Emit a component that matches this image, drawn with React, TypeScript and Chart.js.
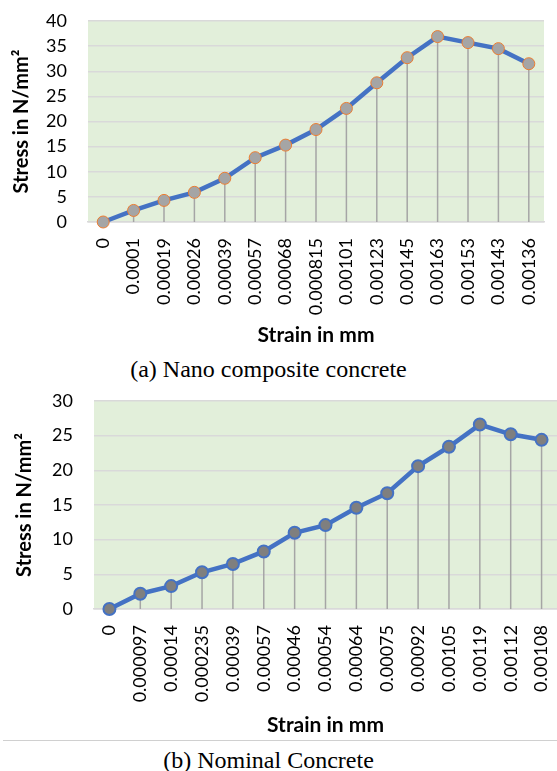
import React, { useEffect, useRef } from "react";
import { Chart, registerables } from "chart.js";

Chart.register(...registerables);

const strainA = ["0", "0.0001", "0.00019", "0.00026", "0.00039", "0.00057", "0.00068", "0.000815", "0.00101", "0.00123", "0.00145", "0.00163", "0.00153", "0.00143", "0.00136"];
const stressA = [0, 2.3, 4.3, 5.9, 8.7, 12.8, 15.3, 18.4, 22.6, 27.7, 32.7, 36.9, 35.7, 34.5, 31.5];

const strainB = ["0", "0.000097", "0.00014", "0.000235", "0.00039", "0.00057", "0.00046", "0.00054", "0.00064", "0.00075", "0.00092", "0.00105", "0.00119", "0.00112", "0.00108"];
const stressB = [0, 2.2, 3.3, 5.3, 6.5, 8.3, 11.0, 12.1, 14.6, 16.7, 20.6, 23.4, 26.6, 25.2, 24.4];

const yTitle = "Stress in N/mm\u00b2";
const xTitle = "Strain in mm";
const captionA = "(a) Nano composite concrete";
const captionB = "(b) Nominal Concrete";

const FONT = "Lato, 'Open Sans', sans-serif";

const bgPlugin = {
  id: "plotBg",
  beforeDraw(chart: any) {
    const { ctx, chartArea } = chart;
    ctx.save();
    ctx.fillStyle = "#e2efda";
    ctx.fillRect(chartArea.left, chartArea.top, chartArea.right - chartArea.left, chartArea.bottom - chartArea.top);
    ctx.restore();
  },
};

const dropPlugin = {
  id: "dropLines",
  beforeDatasetsDraw(chart: any) {
    const { ctx, chartArea } = chart;
    const meta = chart.getDatasetMeta(0);
    ctx.save();
    ctx.strokeStyle = "#a5a5a5";
    ctx.lineWidth = 1.5;
    meta.data.forEach((pt: any) => {
      ctx.beginPath();
      ctx.moveTo(pt.x, pt.y);
      ctx.lineTo(pt.x, chartArea.bottom);
      ctx.stroke();
    });
    ctx.restore();
  },
};

type Cfg = {
  labels: string[];
  values: number[];
  yMax: number;
  pad: { top: number; right: number; left: number; bottom: number };
  yWidth: number;
  xHeight: number;
  yTitlePad: number;
  xTitlePad: number;
  pointFill: string;
  pointBorder: string;
  pointBorderWidth: number;
};

function LineChart({ cfg, width, height }: { cfg: Cfg; width: number; height: number }) {
  const ref = useRef<HTMLCanvasElement>(null);
  useEffect(() => {
    if (!ref.current) return;
    const chart = new Chart(ref.current, {
      type: "line",
      data: {
        labels: cfg.labels,
        datasets: [
          {
            data: cfg.values,
            borderColor: "#4472c4",
            borderWidth: 4.5,
            pointRadius: 6,
            pointBackgroundColor: cfg.pointFill,
            pointBorderColor: cfg.pointBorder,
            pointBorderWidth: cfg.pointBorderWidth,
            tension: 0,
            clip: false,
          },
        ],
      },
      options: {
        animation: false,
        responsive: false,
        devicePixelRatio: 1,
        layout: { padding: cfg.pad, autoPadding: false },
        plugins: { legend: { display: false }, tooltip: { enabled: false } },
        scales: {
          x: {
            offset: true,
            grid: { display: false, drawTicks: false },
            border: { display: true, color: "#d9d9d9", width: 1.5 },
            ticks: {
              autoSkip: false,
              maxRotation: 90,
              minRotation: 90,
              padding: 16,
              color: "#000",
              font: { family: FONT, size: 18 },
            },
            title: {
              display: true,
              text: xTitle,
              color: "#000",
              font: { family: FONT, size: 21, weight: "bold" },
              padding: { top: 0, bottom: cfg.xTitlePad },
            },
            afterFit(scale: any) {
              scale.height = cfg.xHeight;
              scale.paddingLeft = 0;
              scale.paddingRight = 0;
            },
          },
          y: {
            min: 0,
            max: cfg.yMax,
            ticks: {
              stepSize: 5,
              padding: 21,
              color: "#000",
              font: { family: FONT, size: 18 },
            },
            grid: { color: "#d9d9d9", lineWidth: 1.5, drawTicks: false },
            border: { display: false },
            title: {
              display: true,
              text: yTitle,
              color: "#000",
              font: { family: FONT, size: 20, weight: "bold" },
              padding: { top: cfg.yTitlePad, bottom: 0 },
            },
            afterFit(scale: any) {
              scale.width = cfg.yWidth;
              scale.paddingTop = 0;
              scale.paddingBottom = 0;
            },
          },
        },
      },
      plugins: [bgPlugin, dropPlugin],
    });
    return () => chart.destroy();
  }, [cfg]);
  return <canvas ref={ref} width={width} height={height} style={{ display: "block", width, height }} />;
}

const cfgA: Cfg = {
  labels: strainA,
  values: stressA,
  yMax: 40,
  pad: { top: 21, right: 13, left: 0, bottom: 0 },
  yWidth: 88,
  xHeight: 128,
  yTitlePad: 10,
  xTitlePad: 2,
  pointFill: "#a5a5a5",
  pointBorder: "#ed7d31",
  pointBorderWidth: 1,
};

const cfgB: Cfg = {
  labels: strainB,
  values: stressB,
  yMax: 30,
  pad: { top: 16, right: 0, left: 0, bottom: 0 },
  yWidth: 94,
  xHeight: 131,
  yTitlePad: 13,
  xTitlePad: 2,
  pointFill: "#7f7f7f",
  pointBorder: "#4472c4",
  pointBorderWidth: 2,
};

const captionStyle: React.CSSProperties = {
  position: "absolute",
  left: 0,
  width: 537,
  textAlign: "center",
  fontFamily: "'Liberation Serif', 'Times New Roman', serif",
  fontSize: 24,
  lineHeight: "28px",
  color: "#000",
};

export default function App() {
  return (
    <div style={{ position: "absolute", left: 0, top: 0, width: 557, height: 771, background: "#fff", overflow: "hidden" }}>
      <div style={{ position: "absolute", left: 0, top: 0 }}>
        <LineChart cfg={cfgA} width={557} height={350} />
      </div>
      <div style={{ ...captionStyle, top: 355 }}>{captionA}</div>
      <div style={{ position: "absolute", left: 0, top: 385 }}>
        <LineChart cfg={cfgB} width={557} height={355} />
      </div>
      <div style={{ position: "absolute", left: 3, top: 740, width: 554, height: 1, background: "#d0d0d0" }} />
      <div style={{ ...captionStyle, top: 746 }}>{captionB}</div>
    </div>
  );
}
